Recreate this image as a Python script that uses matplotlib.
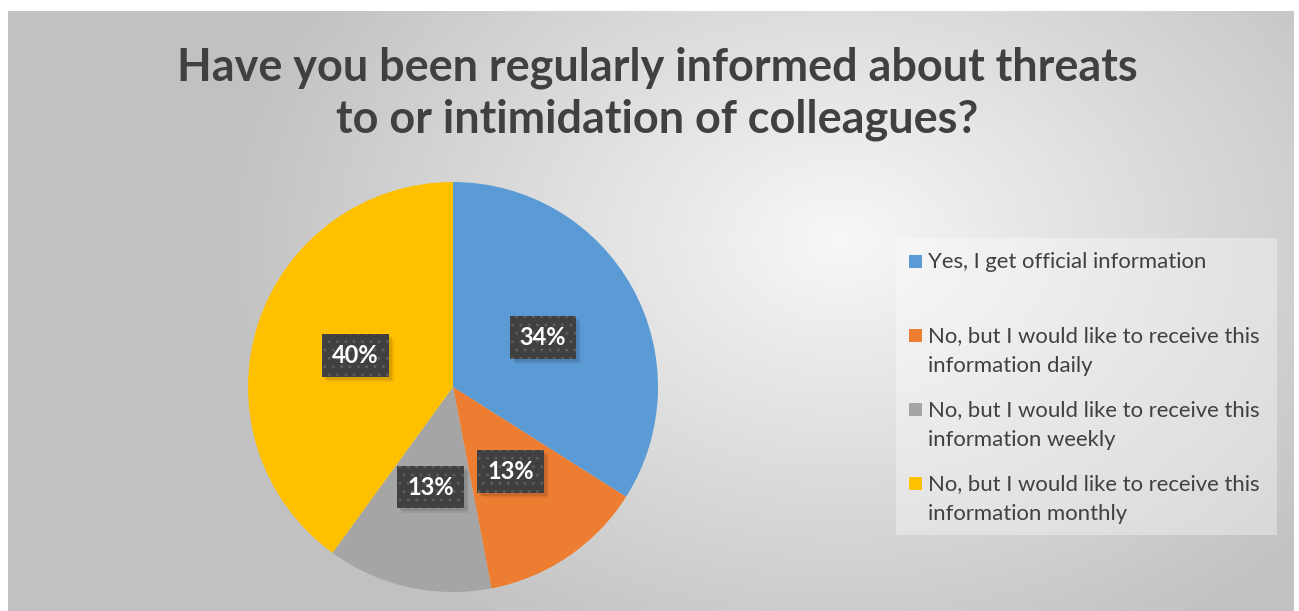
import matplotlib.pyplot as plt
import numpy as np
from matplotlib.patches import Rectangle

W, H = 1299, 611

title = 'Have you been regularly informed about threats\nto or intimidation of colleagues?'
labels = ['Yes, I get official information',
          'No, but I would like to receive this\ninformation daily',
          'No, but I would like to receive this\ninformation weekly',
          'No, but I would like to receive this\ninformation monthly']
values = [34, 13, 13, 40]
colors = ['#5b9bd5', '#ed7d31', '#a5a5a5', '#ffc000']

plt.rcParams['font.family'] = ['Lato', 'DejaVu Sans']

fig = plt.figure(figsize=(W / 100, H / 100), dpi=100)
ax = fig.add_axes([0, 0, 1, 1])


def Y(y):
    # convert top-down pixel row to axis y
    return H - y


# chart area background: soft radial gradient
x0, x1, y0, y1 = 8, 1294, 11, 611
xx, yy = np.meshgrid(np.arange(x0, x1), np.arange(y0, y1))
r = np.sqrt(((xx - 840) / 620.0) ** 2 + ((yy - 240) / 460.0) ** 2)
g = np.clip(0.97 - 0.21 * r, 0.76, 1.0)
img = np.dstack([g, g, g])
ax.imshow(img, extent=(x0, x1, Y(y1), Y(y0)), origin='upper', zorder=0, aspect='auto')

# pie
cx, cy, rad = 453, 387, 205
wedges, _, autotexts = ax.pie(values, colors=colors, startangle=90, counterclock=False,
                              center=(cx, Y(cy)), radius=rad, frame=True,
                              autopct='%1.0f%%', pctdistance=0.5,
                              textprops=dict(color='white', fontsize=17, fontweight='bold'))
ax.set_xlim(0, W)
ax.set_ylim(0, H)
ax.set_aspect('equal')
ax.axis('off')

for t in autotexts:
    t.set_bbox(dict(boxstyle='square,pad=0.42', facecolor='#404040', edgecolor='#5c5c5c',
                    linewidth=0, hatch='..'))
    t.set_zorder(5)

# soft drop shadows behind the label boxes (figure and data pixels coincide)
fig.canvas.draw()
for t in autotexts:
    bb = t.get_bbox_patch().get_window_extent()
    for k, a in [(0, 0.10), (2, 0.06)]:
        ax.add_patch(Rectangle((bb.x0 + 3 + k, bb.y0 - 3 - k), bb.width, bb.height,
                               facecolor='black', alpha=a, linewidth=0, zorder=4))

# title
ax.text(657, Y(94), title, ha='center', va='center', fontsize=32.4, fontweight='bold',
        color='#404040', linespacing=1.28)

# legend box
ax.add_patch(Rectangle((896, Y(535)), 381, 297, facecolor='white', alpha=0.35,
                       edgecolor='none', zorder=2))
line_y = [261, 335, 409, 483]
for lab, col, ly in zip(labels, colors, line_y):
    ax.add_patch(Rectangle((909, Y(ly) - 6.5), 13, 13, facecolor=col, edgecolor='none', zorder=3))
    ax.text(928, Y(ly) + 9, lab, ha='left', va='top', fontsize=15.9, color='#404040',
            linespacing=1.64, zorder=3)

fig.savefig('out.png', dpi=100)
